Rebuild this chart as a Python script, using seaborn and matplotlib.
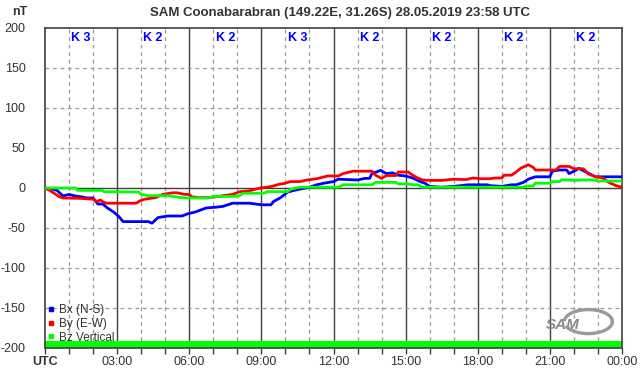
import numpy as np
import pandas as pd
import matplotlib
matplotlib.use("Agg")
import matplotlib.pyplot as plt
from matplotlib.lines import Line2D
from matplotlib.patches import Arc
import seaborn as sns

# ---- data (hours UTC, nT) ----
bx_h = [0, 0.25, 0.5, 0.75, 1.0, 1.25, 1.5, 1.75, 2.0, 2.2, 2.4, 2.6, 2.85, 3.05, 3.25,
        3.6, 4.0, 4.3, 4.45, 4.7, 5.1, 5.7, 5.96, 6.25, 6.7, 7.1, 7.4, 7.8, 8.5, 9.0,
        9.4, 9.5, 9.8, 10.1, 10.5, 11.0, 11.3, 11.6, 12.0, 12.2, 13.0, 13.3, 13.5, 13.6, 13.96,
        14.2, 14.45, 14.7, 15.0, 15.3, 15.6, 15.8, 16.0, 16.5, 17.0, 17.6, 18.0, 18.4, 18.5, 19.0,
        19.4, 19.6, 19.9, 20.1, 20.4, 21.0, 21.1, 21.4, 21.7, 21.8, 22.1, 22.2, 22.5, 22.9, 23.2, 24.0]
bx_v = [0, -1, -3, -10, -8, -10, -11, -12.5, -12.5, -20, -20, -25, -30, -35, -42,
        -42, -42, -42, -44, -37, -35, -35, -32, -30, -25, -24, -23, -19, -19, -21,
        -21, -17, -12, -5, -2, 1, 4, 6, 8, 11, 10, 12, 12, 18, 22,
        18, 19, 16, 15, 12.5, 8, 6, 2, 1, 2, 4, 4, 4, 3, 2,
        4, 4, 7, 11, 14, 14, 21, 22.5, 22.5, 18, 22.5, 24.6, 20, 14, 14, 14]

by_h = [0, 0.2, 0.35, 0.6, 0.75, 1.5, 2.0, 2.15, 2.3, 2.45, 2.6, 3.8, 3.95, 4.15, 4.6,
        4.9, 5.3, 5.5, 5.8, 6.0, 6.1, 6.4, 6.8, 7.1, 7.4, 7.8, 8.1, 8.5, 8.96, 9.25,
        9.5, 9.7, 10.0, 10.2, 10.6, 10.9, 11.3, 11.75, 12.2, 12.4, 12.8, 13.6, 13.75, 14.0, 14.2,
        14.6, 14.7, 15.1, 15.3, 15.5, 15.7, 16.0, 16.5, 17.0, 17.5, 17.8, 18.0, 18.1, 18.5, 18.7,
        19.0, 19.1, 19.4, 19.6, 19.8, 20.1, 20.3, 20.4, 20.8, 21.25, 21.4, 21.8, 22.0, 22.4, 22.6,
        22.9, 23.2, 23.45, 23.75, 24.0]
by_v = [0, -3, -6, -11, -12.5, -13, -14, -17, -15, -18, -19, -19, -16, -14, -12,
        -8, -6, -6, -8, -8, -11, -12, -12, -11, -9.6, -8, -4.6, -3.5, 0, 1,
        2.5, 4.4, 6, 8, 8, 10, 11.6, 15, 15, 18, 21, 21, 16, 12, 15.6,
        15.6, 20, 20, 16, 12.5, 10, 9.5, 9.5, 11, 10.5, 12.5, 12, 11.6, 11.6, 12.5,
        12.5, 16, 16, 20, 25, 29, 26, 22.5, 22.5, 22.5, 27, 27, 24, 24, 17.5,
        14, 12.5, 7, 3, 1]

bz_h = [0, 1.3, 1.35, 2.4, 2.45, 3.9, 4.0, 4.3, 5.1, 5.8, 6.8, 7.0, 7.9, 8.1, 8.25,
        9.1, 9.25, 10.1, 10.2, 10.6, 11.0, 12.2, 12.4, 13.6, 13.75, 14.6, 14.7, 15.1, 15.3, 15.5,
        15.7, 18.0, 19.9, 20.0, 20.3, 20.4, 21.0, 21.1, 21.4, 21.5, 22.0, 22.4, 22.9, 23.0, 24.0]
bz_v = [0, 0, -3, -3, -4.6, -5, -8, -9.6, -9.6, -12.5, -12.5, -10.5, -10.5, -9.5, -6.6,
        -6.6, -4.6, -4.6, -1.7, 1, 1, 1, 4, 4, 7, 7, 5, 5, 4, 4,
        1, 1, 1, 2.5, 2.5, 6, 6, 8, 8, 10.4, 9.5, 10, 10, 8.7, 8.7]

series_names = ["Bx (N-S)", "By (E-W)", "Bz Vertical"]
series_colors = ["#0000FF", "#FF0000", "#00FF00"]

k_hours = [1.5, 4.5, 7.5, 10.5, 13.5, 16.5, 19.5, 22.5]
k_values = [3, 2, 2, 3, 2, 2, 2, 2]

x_tick_labels = ["UTC", "03:00", "06:00", "09:00", "12:00", "15:00", "18:00", "21:00", "00:00"]
y_ticks = [-200, -150, -100, -50, 0, 50, 100, 150, 200]

title = "SAM Coonabarabran (149.22E, 31.26S) 28.05.2019 23:58 UTC"

# ---- build frame ----
df = pd.concat([
    pd.DataFrame({"hour": bx_h, "nT": bx_v, "comp": series_names[0]}),
    pd.DataFrame({"hour": by_h, "nT": by_v, "comp": series_names[1]}),
    pd.DataFrame({"hour": bz_h, "nT": bz_v, "comp": series_names[2]}),
], ignore_index=True)

sns.set_theme(style="white")
plt.rcParams["font.family"] = ["Liberation Sans", "DejaVu Sans"]
txt_col = "#333333"

W, H = 642, 376
fig = plt.figure(figsize=(W / 100, H / 100), dpi=100)
ax = fig.add_axes([45 / W, 1 - 348 / H, (622 - 45) / W, (348 - 28) / H])
ax.set_facecolor("white")

ax.set_xlim(0, 24)
ax.set_ylim(-200, 200)

# grid
for h in range(1, 24):
    if h % 3 == 0:
        ax.axvline(h, color="#404040", lw=1.0, zorder=1)
    else:
        ax.axvline(h, color="#999999", lw=0.9, ls=(0, (3, 3)), zorder=1)
for y in [-150, -100, -50, 50, 100, 150]:
    ax.axhline(y, color="#999999", lw=0.9, ls=(0, (3, 3)), zorder=1)
ax.axhline(0, color="#404040", lw=1.0, zorder=1)

# data-availability bar
ax.axhspan(-200, -191.5, color="#00FF00", lw=0, zorder=2)

sns.lineplot(data=df, x="hour", y="nT", hue="comp", palette=series_colors,
             hue_order=series_names, estimator=None, sort=False,
             lw=2.0, ax=ax, legend=False, zorder=3)

for sp in ax.spines.values():
    sp.set_color("#404040")
    sp.set_linewidth(1.2)

ax.set_xticks(np.arange(0, 25, 3))
ax.set_xticklabels(x_tick_labels)
ax.set_xticks(np.arange(0, 25, 1), minor=True)
ax.set_yticks(y_ticks)
ax.set_yticklabels([str(v) for v in y_ticks])
ax.tick_params(axis="x", which="both", direction="out", length=4, width=1,
               color="#404040", labelsize=9, labelcolor=txt_col, pad=2, bottom=True)
ax.tick_params(axis="y", which="both", length=0, labelsize=9, labelcolor=txt_col, pad=14)
ax.get_xticklabels()[0].set_fontweight("bold")
ax.set_xlabel("")
ax.set_ylabel("")
ax.grid(False)

# K indices
for kh, kv in zip(k_hours, k_values):
    ax.text(kh, 188, f"K {kv}", color="#0000FF", fontsize=9, fontweight="bold",
            ha="center", va="center", zorder=5)

# legend
handles = [Line2D([], [], marker="s", ls="", color=c, markersize=2.5) for c in series_colors]
ax.legend(handles, series_names, loc="lower left", bbox_to_anchor=(-0.01, -0.012),
          frameon=False, fontsize=8.5, handlelength=0.6, handletextpad=0.35,
          labelspacing=0.15, borderpad=0.2, labelcolor=txt_col)

# logo
ax.text(21.55, -171, "SAM", color="#8a8a8a", fontsize=11, fontstyle="italic",
        fontweight="bold", ha="center", va="center", zorder=4)
ax.add_patch(Arc((22.6, -167), 2.0, 30, theta1=-100, theta2=150,
                 color="#9a9a9a", lw=2.4, zorder=4))

fig.text(20 / W, 1 - 12 / H, "nT", color=txt_col, fontsize=9, fontweight="bold",
         ha="center", va="center")
fig.text(340 / W, 1 - 13 / H, title, color=txt_col, fontsize=9.5, fontweight="bold",
         ha="center", va="center")

fig.savefig("out.png", dpi=100, facecolor="white")
